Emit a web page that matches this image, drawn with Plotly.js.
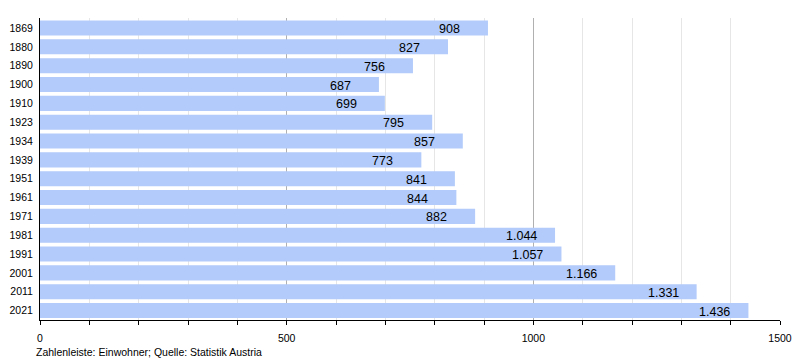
<!DOCTYPE html>
<html>
<head>
<meta charset="utf-8">
<script src="https://cdn.plot.ly/plotly-3.0.1.min.js"></script>
<style>html,body{margin:0;padding:0;background:#fff;}#chart{width:800px;height:360px;}</style>
</head>
<body>
<div id="chart"></div>
<script>
const years = ['1869','1880','1890','1900','1910','1923','1934','1939','1951','1961','1971','1981','1991','2001','2011','2021'];
const population = [908,827,756,687,699,795,857,773,841,844,882,1044,1057,1166,1331,1436];
const caption = 'Zahlenleiste: Einwohner; Quelle: Statistik Austria';

function fmt(v){ return String(v).replace(/\B(?=(\d{3})+(?!\d))/g, '.'); }

const trace = {
  type: 'bar', orientation: 'h',
  y: years, x: population,
  marker: {color: '#b2cbfa', line: {width: 0}},
  hoverinfo: 'none'
};

const annotations = years.map((y, i) => ({
  x: population[i], y: i, xref: 'x', yref: 'y',
  text: fmt(population[i]), showarrow: false,
  xanchor: 'left', xshift: -51, yanchor: 'middle', yshift: -1,
  font: {family: 'Liberation Sans, Arial, sans-serif', size: 12.5, color: '#000'}
}));
annotations.push({
  xref: 'paper', yref: 'paper', x: -0.008, y: -0.08, xanchor: 'left', yanchor: 'top',
  text: caption, showarrow: false,
  font: {family: 'Liberation Sans, Arial, sans-serif', size: 10.5, color: '#000'}
});

const layout = {
  width: 800, height: 360,
  margin: {l: 40, r: 20, t: 18, b: 40},
  paper_bgcolor: '#fff', plot_bgcolor: '#fff',
  showlegend: false,
  bargap: 0.2,
  font: {family: 'Liberation Sans, Arial, sans-serif', size: 10, color: '#000'},
  xaxis: {
    range: [0, 1500], dtick: 500, tick0: 0,
    showgrid: true, gridcolor: '#b0b0b0', gridwidth: 1,
    zeroline: false,
    showline: true, linecolor: '#000', linewidth: 1,
    ticks: 'outside', ticklen: 4, tickcolor: '#000',
    ticklabelstandoff: 4,
    tickfont: {size: 10.5},
    minor: {dtick: 100, showgrid: true, gridcolor: '#e6e6e6', gridwidth: 1, ticks: 'outside', ticklen: 4, tickcolor: '#000'},
    fixedrange: true
  },
  yaxis: {
    type: 'category', autorange: 'reversed',
    showgrid: false, zeroline: false,
    showline: true, linecolor: '#000', linewidth: 1,
    ticks: '', ticklabelstandoff: 4,
    tickfont: {size: 10.5},
    fixedrange: true
  },
  annotations: annotations
};

Plotly.newPlot('chart', [trace], layout, {staticPlot: true, displayModeBar: false});
</script>
</body>
</html>
